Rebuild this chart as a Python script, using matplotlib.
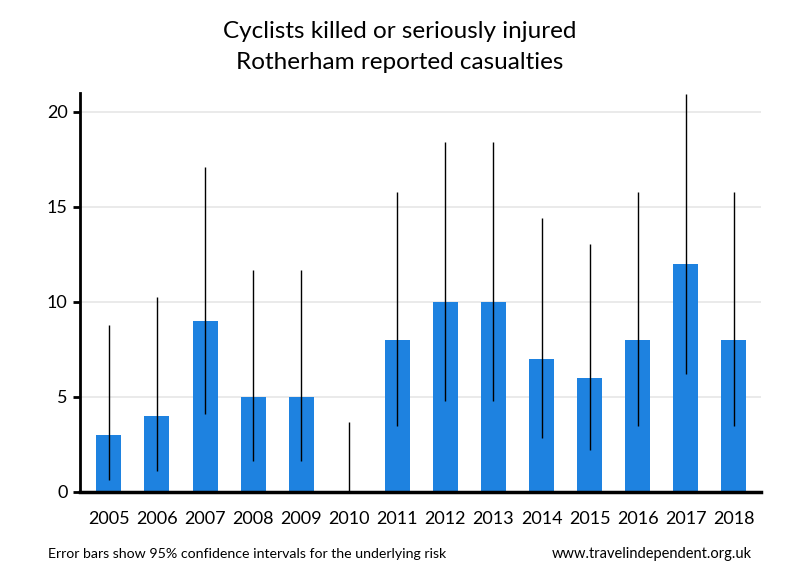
import matplotlib
matplotlib.use("Agg")
import matplotlib.pyplot as plt
import numpy as np

plt.rcParams["font.family"] = ["Lato", "DejaVu Sans"]

years = ["2005", "2006", "2007", "2008", "2009", "2010", "2011",
         "2012", "2013", "2014", "2015", "2016", "2017", "2018"]
casualties = [3, 4, 9, 5, 5, 0, 8, 10, 10, 7, 6, 8, 12, 8]
ci_low = [0.62, 1.09, 4.12, 1.62, 1.62, 0.0, 3.45, 4.80, 4.80, 2.81, 2.20, 3.45, 6.20, 3.45]
ci_high = [8.77, 10.24, 17.08, 11.67, 11.67, 3.69, 15.76, 18.39, 18.39, 14.42, 13.06, 15.76, 20.96, 15.76]

fig = plt.figure(figsize=(8, 5.8), dpi=100)
ax = fig.add_axes([0.1, 0.152, 0.851, 0.688])

x = np.arange(len(years))
ax.bar(x, casualties, width=0.52, color="#1e82e0", zorder=2)
ax.vlines(x, ci_low, ci_high, color="black", lw=1, zorder=3)

ax.set_xlim(-0.6, len(years) - 0.44)
ax.set_ylim(0, 21)
ax.set_yticks([0, 5, 10, 15, 20])
ax.yaxis.grid(True, color="#e8e8e8", lw=1.3, zorder=0)
ax.set_axisbelow(True)
ax.set_xticks(x)
ax.set_xticklabels(years)
ax.tick_params(axis="x", length=0, pad=14, labelsize=13)
ax.tick_params(axis="y", length=5, width=2, labelsize=13, pad=4)
for s in ["top", "right"]:
    ax.spines[s].set_visible(False)
ax.spines["left"].set_linewidth(2)
ax.spines["bottom"].set_linewidth(2.5)

fig.text(0.5, 0.945, "Cyclists killed or seriously injured", ha="center",
         va="center", fontsize=17.5)
fig.text(0.5, 0.893, "Rotherham reported casualties", ha="center",
         va="center", fontsize=17.5)
fig.text(0.06, 0.045, "Error bars show 95% confidence intervals for the underlying risk",
         ha="left", va="center", fontsize=10.2)
fig.text(0.94, 0.045, "www.travelindependent.org.uk", ha="right",
         va="center", fontsize=10.5)

fig.savefig("out.png")
